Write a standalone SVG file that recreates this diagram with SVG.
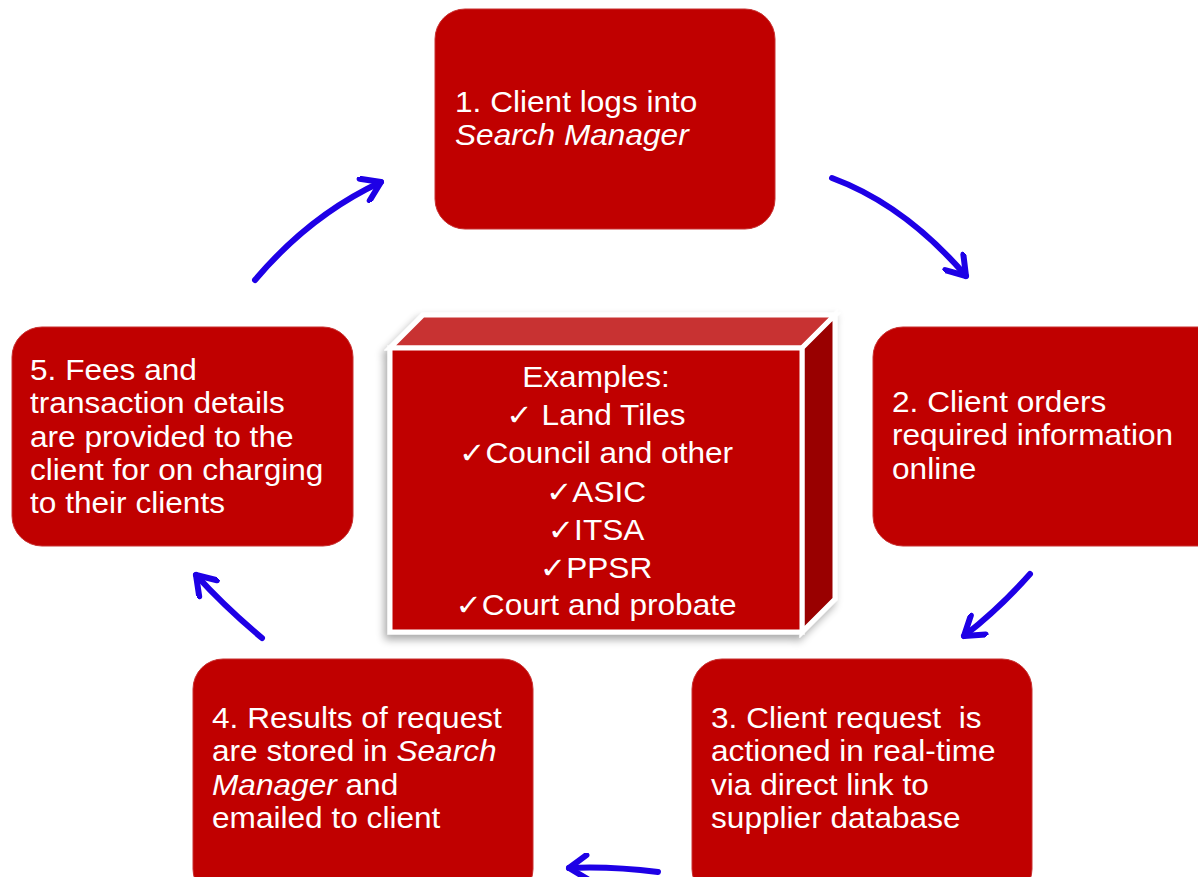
<svg xmlns="http://www.w3.org/2000/svg" width="1198" height="877" viewBox="0 0 1198 877">
  <style>
    .step { fill: #C00000; stroke: #C83030; stroke-width: 1; }
    .lbl { font-family: "Liberation Sans", Arial, "DejaVu Sans", sans-serif; font-size: 29px; fill: #FFFFFF; }
    .it { font-style: italic; }
    .flow { fill: none; stroke: #1E00E6; stroke-width: 6; stroke-linecap: round; }
  </style>
  <defs>
    <marker id="head" viewBox="-24 -14 28 28" markerWidth="28" markerHeight="28" refX="0" refY="0" orient="auto" markerUnits="userSpaceOnUse">
      <polyline points="-18,-12 0,0 -18,12" fill="none" stroke="#1E00E6" stroke-width="6" stroke-linecap="round" stroke-linejoin="round"/>
    </marker>
    <filter id="shadow" x="-10%" y="-10%" width="125%" height="130%">
      <feGaussianBlur in="SourceAlpha" stdDeviation="4"/>
      <feOffset dx="-3" dy="5" result="b"/>
      <feComponentTransfer><feFuncA type="linear" slope="0.35"/></feComponentTransfer>
      <feMerge><feMergeNode/><feMergeNode in="SourceGraphic"/></feMerge>
    </filter>
  </defs>

  <!-- cycle connectors -->
  <g id="connectors">
    <path class="flow" d="M832,178 Q905,205 966,276" marker-end="url(#head)"/>
    <path class="flow" d="M1030,574 Q1000,608 964,636" marker-end="url(#head)"/>
    <path class="flow" d="M658,872 Q610,866 569,868" marker-end="url(#head)"/>
    <path class="flow" d="M262,638 Q225,607 196,575" marker-end="url(#head)"/>
    <path class="flow" d="M255,280 Q310,215 381,182" marker-end="url(#head)"/>
  </g>

  <!-- step 1 -->
  <g id="step1">
    <rect class="step" x="435" y="9" width="340" height="220" rx="30"/>
    <text class="lbl" transform="translate(455 112) scale(1.09 1)">
      <tspan x="0" y="0">1. Client logs into</tspan>
      <tspan x="0" y="33.3" class="it">Search Manager</tspan>
    </text>
  </g>

  <!-- step 2 -->
  <g id="step2">
    <rect class="step" x="873" y="327" width="360" height="219" rx="30"/>
    <text class="lbl" transform="translate(892 412) scale(1.09 1)">
      <tspan x="0" y="0">2. Client orders</tspan>
      <tspan x="0" y="33.3">required information</tspan>
      <tspan x="0" y="66.6">online</tspan>
    </text>
  </g>

  <!-- step 3 -->
  <g id="step3">
    <rect class="step" x="692" y="659" width="340" height="240" rx="30"/>
    <text class="lbl" transform="translate(711 728) scale(1.09 1)" xml:space="preserve"><tspan x="0" y="0">3. Client request  is</tspan><tspan x="0" y="33.3">actioned in real-time</tspan><tspan x="0" y="66.6">via direct link to</tspan><tspan x="0" y="99.9">supplier database</tspan></text>
  </g>

  <!-- step 4 -->
  <g id="step4">
    <rect class="step" x="193" y="659" width="340" height="240" rx="30"/>
    <text class="lbl" transform="translate(212 728) scale(1.09 1)" xml:space="preserve"><tspan x="0" y="0">4. Results of request</tspan><tspan x="0" y="33.3">are stored in <tspan class="it">Search</tspan></tspan><tspan x="0" y="66.6"><tspan class="it">Manager</tspan> and</tspan><tspan x="0" y="99.9">emailed to client</tspan></text>
  </g>

  <!-- step 5 -->
  <g id="step5">
    <rect class="step" x="12" y="327" width="341" height="219" rx="30"/>
    <text class="lbl" transform="translate(30 380) scale(1.09 1)">
      <tspan x="0" y="0">5. Fees and</tspan>
      <tspan x="0" y="33.3">transaction details</tspan>
      <tspan x="0" y="66.6">are provided to the</tspan>
      <tspan x="0" y="99.9">client for on charging</tspan>
      <tspan x="0" y="133.2">to their clients</tspan>
    </text>
  </g>

  <!-- central examples cube -->
  <g id="examples">
    <g filter="url(#shadow)" stroke="#FFFFFF" stroke-width="5" stroke-linejoin="miter">
      <polygon points="390,348 423,315 835,315 802,348" fill="#C83232"/>
      <polygon points="802,348 835,315 835,599 802,632" fill="#990000"/>
      <rect x="390" y="348" width="412" height="284" fill="#C00000"/>
    </g>
    <text class="lbl" text-anchor="middle" transform="translate(596 387) scale(1.09 1)" xml:space="preserve"><tspan x="0" y="0">Examples:</tspan><tspan x="0" y="38">✓ Land Tiles</tspan><tspan x="0" y="76">✓Council and other</tspan><tspan x="0" y="115">✓ASIC</tspan><tspan x="0" y="153">✓ITSA</tspan><tspan x="0" y="191">✓PPSR</tspan><tspan x="0" y="228">✓Court and probate</tspan></text>
  </g>
</svg>
